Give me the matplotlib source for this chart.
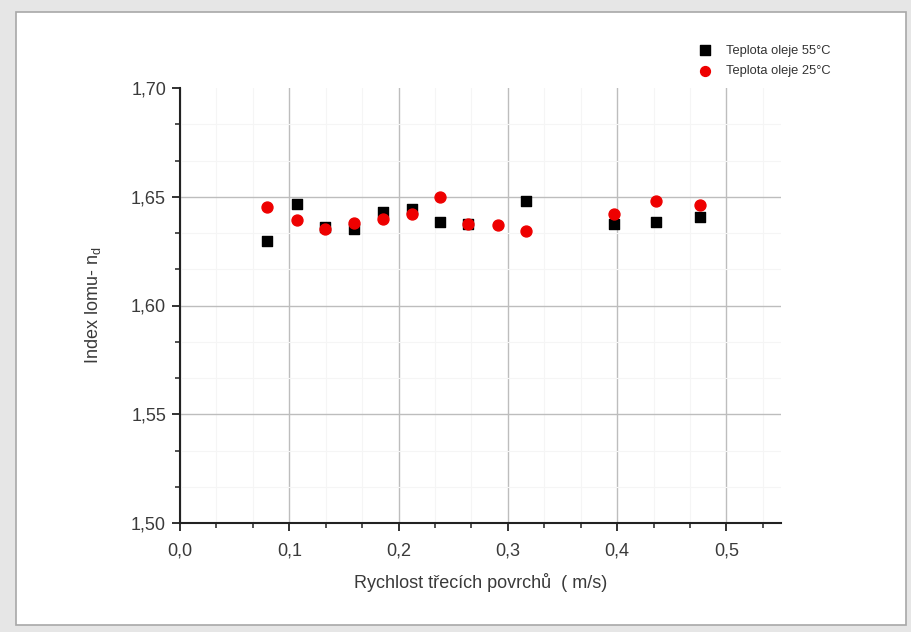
import matplotlib
matplotlib.use("Agg")
import matplotlib.pyplot as plt
from matplotlib.patches import Rectangle
from matplotlib.ticker import FixedLocator, MultipleLocator, FuncFormatter

plt.rcParams['font.family'] = ['Liberation Sans', 'DejaVu Sans']
plt.rcParams['mathtext.fontset'] = 'custom'
plt.rcParams['mathtext.rm'] = 'Liberation Sans'

# Sliding speed of friction surfaces (m/s) and refractive index n_d
speed_55 = [0.080, 0.107, 0.133, 0.159, 0.186, 0.212, 0.238, 0.264, 0.317, 0.397, 0.436, 0.476]
index_55 = [1.6297, 1.6467, 1.6362, 1.6353, 1.6428, 1.6442, 1.6385, 1.6373, 1.6482, 1.6377, 1.6384, 1.6407]

speed_25 = [0.080, 0.107, 0.133, 0.159, 0.186, 0.212, 0.238, 0.264, 0.291, 0.317, 0.397, 0.436, 0.476]
index_25 = [1.6454, 1.6394, 1.6350, 1.6378, 1.6396, 1.6421, 1.6500, 1.6373, 1.6369, 1.6343, 1.6422, 1.6480, 1.6461]

labels = ['Teplota oleje 55°C', 'Teplota oleje 25°C']
x_ticks = [0.0, 0.1, 0.2, 0.3, 0.4, 0.5]
y_ticks = [1.50, 1.55, 1.60, 1.65, 1.70]

W, H = 912, 632
fig = plt.figure(figsize=(W / 100, H / 100), dpi=100, facecolor='#e6e6e6')

# white page with a thin shadowed border, kept behind everything
fig.patches.append(Rectangle((16 / W, 7 / H), (906 - 16) / W, (620 - 7) / H,
                             transform=fig.transFigure, facecolor='white',
                             edgecolor='#a8a8a8', linewidth=1.2, zorder=-10))

ax = fig.add_axes([180 / W, (H - 523) / H, (781 - 180) / W, (523 - 88) / H])
ax.set_facecolor('none')
ax.set_zorder(1)

ax.scatter(speed_55, index_55, marker='s', s=52, color='black', zorder=3, label=labels[0])
ax.scatter(speed_25, index_25, marker='o', s=62, color='#ee0000', zorder=3, label=labels[1])

ax.set_xlim(0, 0.55)
ax.set_ylim(1.50, 1.70)
ax.xaxis.set_major_locator(FixedLocator(x_ticks))
ax.yaxis.set_major_locator(FixedLocator(y_ticks))
ax.xaxis.set_minor_locator(MultipleLocator(0.1 / 3))
ax.yaxis.set_minor_locator(MultipleLocator(0.05 / 3))
ax.xaxis.set_major_formatter(FuncFormatter(lambda v, p: f"{v:.1f}".replace('.', ',')))
ax.yaxis.set_major_formatter(FuncFormatter(lambda v, p: f"{v:.2f}".replace('.', ',')))

for side in ('top', 'right'):
    ax.spines[side].set_visible(False)
for side in ('left', 'bottom'):
    ax.spines[side].set_linewidth(1.5)
    ax.spines[side].set_color('#222222')

ax.tick_params(which='major', direction='out', length=6, width=1.3, labelsize=13,
               labelcolor='#3a3a3a', color='#222222', pad=4)
ax.tick_params(axis='x', which='major', pad=8)
ax.tick_params(which='minor', direction='out', length=3.5, width=1.1, color='#222222')

ax.grid(which='major', color='#bdbdbd', linewidth=1.0, zorder=0)
ax.grid(which='minor', color='#f5f5f5', linewidth=0.8, zorder=0)
ax.set_axisbelow(True)
# no horizontal line along the top edge
ax.yaxis.get_major_ticks()[-1].gridline.set_visible(False)

ax.set_xlabel('Rychlost třecích povrchů  ( m/s)', fontsize=13, color='#3a3a3a', labelpad=10)
ax.set_ylabel('Index lomu- n$_\\mathregular{d}$', fontsize=13, color='#3a3a3a', labelpad=20)

fig.legend(loc='upper left', bbox_to_anchor=(680 / W, 1 - 33 / H), frameon=False,
           fontsize=9.3, labelcolor='#333333', handletextpad=0.7, labelspacing=0.65,
           markerscale=0.9)

fig.savefig('out.png', dpi=100, facecolor=fig.get_facecolor())
